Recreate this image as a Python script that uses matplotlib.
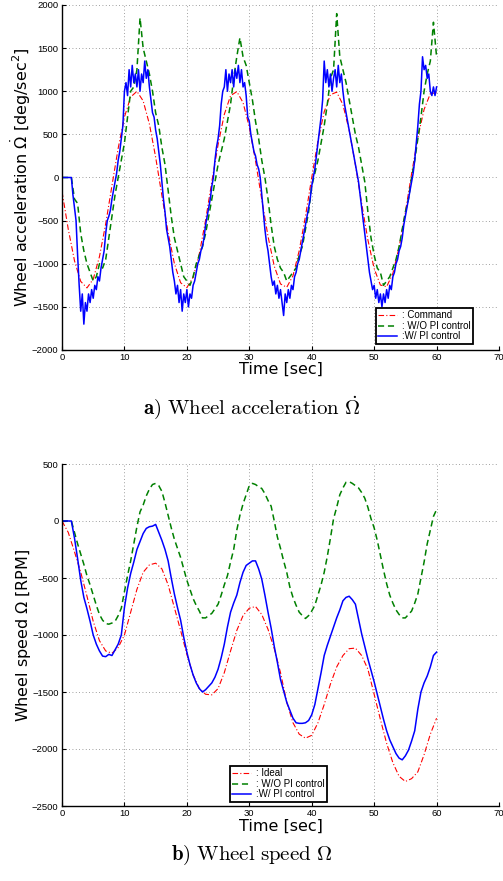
import numpy as np
import matplotlib
matplotlib.use("Agg")
import matplotlib.pyplot as plt

# ---------------- data: wheel acceleration [deg/sec^2] ----------------
t_cmd = np.arange(0, 61, 1.0)
acc_command = [-162, -598, -965, -1205, -1280, -1179, -917, -537, -95, 340,
               701, 933, 999, 888, 620, 236, -208, -640, -998, -1220,
               -1277, -1158, -883, -495, -49, 381, 732, 948, 996, 869,
               585, 192, -254, -682, -1028, -1234, -1273, -1139, -847, -448,
               -2, 423, 762, 960, 990, 845, 547, 147, -301, -723,
               -1055, -1247, -1267, -1112, -810, -403, 44, 463, 789, 972, 983]

t_wo = np.arange(0, 60.5, 0.5)
acc_wo_pi = [0, 0, 0, 0, -250, -300, -650, -850, -1000, -1100,
             -1200, -1150, -1000, -1050, -950, -700, -450, -200, 0, 200,
             400, 700, 1000, 1050, 1250, 1850, 1500, 1350, 1200, 1000,
             750, 600, 350, 150, -150, -450, -700, -850, -1000, -1150,
             -1200, -1250, -1150, -1000, -900, -800, -650, -450, -250, -50,
             150, 300, 450, 650, 850, 1150, 1400, 1620, 1400, 1300,
             1100, 900, 650, 450, 200, 0, -250, -550, -800, -950,
             -1050, -1100, -1200, -1150, -1100, -1050, -900, -800, -600, -400,
             -100, 50, 200, 400, 600, 850, 1150, 1250, 1900, 1400,
             1250, 1100, 900, 700, 500, 350, 150, -50, -400, -700,
             -900, -1050, -1100, -1250, -1200, -1150, -1050, -950, -800, -600,
             -400, -250, 0, 200, 450, 700, 1000, 1200, 1350, 1800, 1400]

t_w = np.arange(0, 60.25, 0.25)
acc_w_pi = [0, 0, 0, 0, 0, 0, 0, -200,
            -350, -500, -900, -1250, -1550, -1350, -1700, -1450,
            -1550, -1350, -1450, -1300, -1400, -1250, -1300, -1150,
            -1200, -1050, -950, -850, -650, -500, -450, -380,
            -250, -150, -50, 50, 200, 300, 450, 600,
            1000, 1100, 950, 1250, 1050, 1300, 1100, 1200,
            1050, 1250, 1000, 1200, 1100, 1350, 1150, 1250,
            1050, 900, 750, 700, 550, 450, 300, 150,
            -50, -250, -400, -600, -700, -800, -950, -1100,
            -1200, -1350, -1250, -1450, -1300, -1550, -1350, -1450,
            -1300, -1500, -1350, -1400, -1250, -1200, -1100, -1000,
            -950, -850, -800, -700, -550, -450, -350, -250,
            -100, 0, 200, 350, 450, 600, 850, 1000,
            1050, 1250, 1000, 1200, 1100, 1250, 1050, 1250,
            1150, 1300, 1100, 1250, 1050, 1100, 950, 700,
            650, 500, 400, 300, 250, 150, 100, 0,
            -200, -400, -600, -750, -850, -1000, -1150, -1250,
            -1200, -1350, -1250, -1400, -1300, -1450, -1600, -1350,
            -1450, -1300, -1400, -1250, -1300, -1150, -1100, -1000,
            -950, -850, -750, -650, -550, -450, -350, -250,
            -100, 0, 100, 250, 400, 550, 700, 900,
            1350, 1100, 1250, 1050, 1200, 1000, 1150, 1250,
            1050, 1300, 1100, 1200, 1000, 850, 750, 650,
            550, 450, 350, 250, 150, 50, -50, -200,
            -350, -500, -650, -800, -950, -1100, -1200, -1300,
            -1250, -1400, -1300, -1450, -1350, -1500, -1350, -1450,
            -1300, -1400, -1250, -1300, -1150, -1100, -1000, -950,
            -850, -800, -700, -550, -450, -350, -250, -150,
            -50, 50, 200, 400, 600, 850, 1000, 1400,
            1250, 1300, 1150, 1200, 1000, 950, 1050, 950,
            1050]

# ---------------- data: wheel speed [RPM] ----------------
spd_ideal = [0, -100, -270, -450, -660, -880, -1050, -1140, -1160, -1110,
             -1000, -800, -600, -450, -385, -370, -420, -560, -760, -960,
             -1170, -1350, -1470, -1520, -1525, -1470, -1330, -1140, -960, -830,
             -765, -750, -820, -950, -1120, -1330, -1590, -1770, -1870, -1905,
             -1880, -1770, -1610, -1430, -1280, -1180, -1120, -1115, -1180, -1300,
             -1520, -1740, -1950, -2120, -2240, -2285, -2260, -2200, -2050, -1870,
             -1730]

spd_wo_pi = [0, 0, 0, 0, -100, -200, -290, -380, -480, -560,
             -650, -740, -820, -870, -900, -905, -895, -880, -830, -765,
             -620, -480, -350, -200, -50, 80, 140, 220, 280, 320,
             330, 310, 260, 160, 50, -60, -160, -240, -320, -420,
             -520, -600, -680, -740, -790, -850, -850, -830, -810, -770,
             -730, -650, -560, -480, -360, -250, -80, 50, 150, 230,
             310, 330, 320, 300, 285, 240, 180, 130, 0, -140,
             -240, -350, -450, -580, -670, -740, -800, -830, -855, -830,
             -790, -740, -650, -560, -450, -310, -150, 20, 120, 230,
             290, 340, 345, 330, 310, 290, 250, 200, 120, 20,
             -60, -170, -300, -430, -550, -650, -720, -780, -820, -850,
             -850, -820, -790, -720, -640, -500, -360, -200, -80, 40,
             100]

spd_w_pi = [0, 0, 0, 0, -150, -330, -520, -670, -770, -880,
            -1000, -1080, -1140, -1185, -1190, -1170, -1180, -1130, -1080, -1000,
            -760, -590, -460, -360, -250, -180, -110, -65, -50, -45,
            -30, -100, -170, -250, -350, -500, -640, -760, -870, -1020,
            -1150, -1260, -1350, -1420, -1470, -1500, -1480, -1450, -1420, -1370,
            -1300, -1200, -1080, -930, -800, -720, -650, -540, -450, -390,
            -370, -350, -350, -420, -510, -650, -800, -940, -1100, -1240,
            -1390, -1490, -1590, -1660, -1730, -1770, -1775, -1775, -1770, -1750,
            -1700, -1610, -1470, -1330, -1180, -1090, -1010, -930, -850, -780,
            -700, -670, -660, -690, -730, -860, -990, -1100, -1210, -1310,
            -1410, -1520, -1630, -1740, -1840, -1920, -1980, -2040, -2080, -2095,
            -2060, -2010, -1930, -1840, -1650, -1500, -1420, -1360, -1280, -1180,
            -1150]

x_ticks = [0, 10, 20, 30, 40, 50, 60, 70]
acc_yticks = [-2000, -1500, -1000, -500, 0, 500, 1000, 1500, 2000]
spd_yticks = [-2500, -2000, -1500, -1000, -500, 0, 500]
acc_labels = [": Command", ": W/O PI control", ":W/ PI control"]
spd_labels = [": Ideal", ": W/O PI control", ":W/ PI control"]

# ---------------- figure ----------------
W, H = 503, 881
fig = plt.figure(figsize=(W / 100, H / 100), dpi=100)
fig.patch.set_facecolor("white")

RED = (1.0, 0.0, 0.0)
GREEN = (0.0, 0.5, 0.0)
BLUE = (0.0, 0.0, 1.0)
TICKFONT = "Liberation Sans"


def style_axes(ax, yticks, ylim):
    ax.set_xlim(0, 70)
    ax.set_ylim(*ylim)
    ax.set_xticks(x_ticks)
    ax.set_yticks(yticks)
    ax.grid(True, linestyle=(0, (1, 3)), color="#808080", linewidth=0.6)
    for s in ["top", "right"]:
        ax.spines[s].set_visible(False)
    for s in ["left", "bottom"]:
        ax.spines[s].set_linewidth(1.0)
    ax.tick_params(direction="in", length=3, width=0.8, labelsize=6.8, pad=2.5)
    for lab in ax.get_xticklabels() + ax.get_yticklabels():
        lab.set_fontfamily(TICKFONT)


def add_legend(ax, handles, labels, x0, y0):
    leg = ax.legend(handles, labels, loc="upper left",
                    bbox_to_anchor=(x0 / W, 1 - y0 / H),
                    bbox_transform=fig.transFigure, borderaxespad=0,
                    prop={"family": TICKFONT, "size": 7},
                    labelspacing=0.05, handlelength=1.9, handletextpad=0.5,
                    borderpad=0.25, fancybox=False, framealpha=1)
    fr = leg.get_frame()
    fr.set_edgecolor("black")
    fr.set_linewidth(1.3)
    return leg


# ---- top: acceleration ----
ax1 = fig.add_axes([62 / W, 1 - 350 / H, 437 / W, 345 / H])
h1, = ax1.plot(t_cmd, acc_command, color=RED, linestyle=(0, (5, 2, 1, 2)), linewidth=0.8)
h2, = ax1.plot(t_wo, acc_wo_pi, color=GREEN, linestyle=(0, (4, 2.5)), linewidth=1.1)
h3, = ax1.plot(t_w, acc_w_pi, color=BLUE, linestyle="-", linewidth=1.1)
style_axes(ax1, acc_yticks, (-2000, 2000))
ax1.set_xlabel("Time [sec]", fontsize=11.5, family="DejaVu Sans")
ax1.xaxis.set_label_coords(0.5, -0.033)
ax1.set_ylabel(r"Wheel acceleration $\dot{\Omega}$ [deg/sec$^2$]", fontsize=11.5,
               family="DejaVu Sans")
ax1.yaxis.set_label_coords(-0.066, 0.5)
add_legend(ax1, [h1, h2, h3], acc_labels, 376, 308)

# ---- bottom: speed ----
ax2 = fig.add_axes([62 / W, 1 - 806 / H, 437 / W, 342 / H])
g1, = ax2.plot(t_cmd, spd_ideal, color=RED, linestyle=(0, (5, 2, 1, 2)), linewidth=0.8)
g2, = ax2.plot(t_wo, spd_wo_pi, color=GREEN, linestyle=(0, (4, 2.5)), linewidth=1.1)
g3, = ax2.plot(t_wo, spd_w_pi, color=BLUE, linestyle="-", linewidth=1.1)
style_axes(ax2, spd_yticks, (-2500, 500))
ax2.set_xlabel("Time [sec]", fontsize=11.5, family="DejaVu Sans")
ax2.xaxis.set_label_coords(0.5, -0.036)
ax2.set_ylabel(r"Wheel speed $\Omega$ [RPM]", fontsize=11.5, family="DejaVu Sans")
ax2.yaxis.set_label_coords(-0.066, 0.5)
add_legend(ax2, [g1, g2, g3], spd_labels, 230, 766)

# ---- captions ----
fig.text(0.5, 1 - 408 / H,
         r"$\mathbf{a)}\ \mathrm{Wheel\ acceleration}\ \dot{\Omega}$",
         ha="center", va="center", fontsize=15, math_fontfamily="cm")
fig.text(0.5, 1 - 855 / H,
         r"$\mathbf{b)}\ \mathrm{Wheel\ speed}\ \Omega$",
         ha="center", va="center", fontsize=15, math_fontfamily="cm")

fig.savefig("out.png", dpi=100, facecolor="white")
